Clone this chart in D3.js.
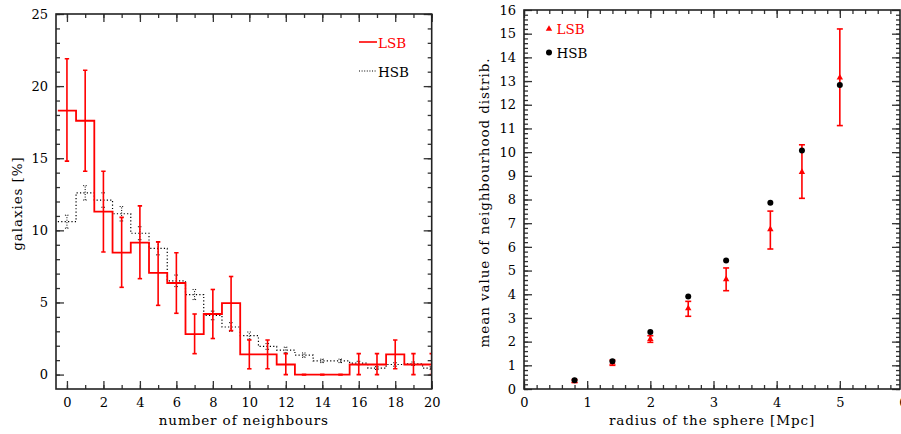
<!DOCTYPE html>
<html><head><meta charset="utf-8">
<script src="https://cdn.jsdelivr.net/npm/d3@7"></script>
<style>
body{margin:0;background:#fff;}
text{font-family:"DejaVu Serif",serif;}
</style></head>
<body><svg id="c" width="901" height="434"></svg>
<script>
// ---- Left panel data: histogram of number of neighbours ----
const bins = d3.range(0, 21);
const lsbPct = [18.3,17.6,11.3,8.45,9.15,7.05,6.35,2.8,4.2,4.95,1.4,1.4,0.7,0,0,0,0.7,0.7,1.4,0.7,0.7];
const lsbLo  = [14.8,14.1,8.5,6.05,6.65,4.8,4.25,1.45,2.5,3.05,0.4,0.4,0,0,0,0,0,0,0.4,0,0];
const lsbHi  = [21.9,21.1,14.1,10.9,11.7,9.2,8.45,4.2,5.9,6.8,2.4,2.4,1.45,0,0,0,1.45,1.45,2.4,1.45,1.45];
const hsbPct = [10.6,12.6,12.1,11.15,9.8,8.75,6.5,5.55,4.1,3.3,2.7,1.95,1.7,1.35,0.95,0.95,0.8,0.45,0.7,0.75,0.45];
const hsbErr = [0.45,0.5,0.5,0.5,0.45,0.45,0.4,0.35,0.3,0.3,0.25,0.2,0.2,0.15,0.12,0.12,0.12,0.1,0.12,0.12,0.1];
const leftXTicks = [0,2,4,6,8,10,12,14,16,18,20];
const leftYTicks = [0,5,10,15,20,25];

// ---- Right panel data: mean neighbourhood value vs radius ----
const radius   = [0.8,1.4,2.0,2.6,3.2,3.9,4.4,5.0];
const hsbMean  = [0.37,1.17,2.41,3.9,5.43,7.86,10.07,12.83];
const lsbMean  = [0.33,1.11,2.11,3.4,4.63,6.74,9.16,13.14];
const lsbMeanLo= [0.27,1.0,1.97,3.07,4.15,5.91,8.05,11.12];
const lsbMeanHi= [0.4,1.22,2.25,3.7,5.11,7.51,10.31,15.2];
const rightXTicks = [0,1,2,3,4,5,6];
const rightYTicks = d3.range(0,17);

const svg = d3.select("#c");
const RED = "#ff0000";

function frame(g, x0, y0, x1, y1){
  g.append("rect").attr("x",x0).attr("y",y0).attr("width",x1-x0).attr("height",y1-y0)
    .attr("fill","none").attr("stroke","#222").attr("stroke-width",1.6);
}
function drawAxes(g, x, y, xMaj, xMin, yMaj, yMin, bounds, fmtX, fmtY){
  const [x0,y0,x1,y1] = bounds;
  const style = sel => { sel.select(".domain").remove(); sel.selectAll("line").attr("stroke","#333").attr("stroke-width",1.3); };
  // bottom
  g.append("g").attr("transform",`translate(0,${y1})`)
    .call(d3.axisBottom(x).tickValues(xMin).tickSize(-4).tickFormat("")).call(style);
  g.append("g").attr("transform",`translate(0,${y1})`)
    .call(d3.axisBottom(x).tickValues(xMaj).tickSize(-8).tickPadding(9).tickFormat(fmtX)).call(style)
    .selectAll("text").attr("font-size",13).attr("fill","#000").attr("dy","0.72em");
  // top
  g.append("g").attr("transform",`translate(0,${y0})`)
    .call(d3.axisTop(x).tickValues(xMin).tickSize(-4).tickFormat("")).call(style);
  g.append("g").attr("transform",`translate(0,${y0})`)
    .call(d3.axisTop(x).tickValues(xMaj).tickSize(-8).tickFormat("")).call(style);
  // left
  g.append("g").attr("transform",`translate(${x0},0)`)
    .call(d3.axisLeft(y).tickValues(yMin).tickSize(-4).tickFormat("")).call(style);
  g.append("g").attr("transform",`translate(${x0},0)`)
    .call(d3.axisLeft(y).tickValues(yMaj).tickSize(-8).tickPadding(8).tickFormat(fmtY)).call(style)
    .selectAll("text").attr("font-size",13).attr("fill","#000");
  // right
  g.append("g").attr("transform",`translate(${x1},0)`)
    .call(d3.axisRight(y).tickValues(yMin).tickSize(-4).tickFormat("")).call(style);
  g.append("g").attr("transform",`translate(${x1},0)`)
    .call(d3.axisRight(y).tickValues(yMaj).tickSize(-8).tickFormat("")).call(style);
  frame(g, x0, y0, x1, y1);
}

// ================= LEFT PANEL =================
{
  const b = [56,14,431.7,389];
  const x = d3.scaleLinear().domain([-0.6,20]).range([b[0],b[2]]);
  const y = d3.scaleLinear().domain([-1,25]).range([b[3],b[1]]);
  const g = svg.append("g");
  svg.append("clipPath").attr("id","clipL").append("rect")
    .attr("x",b[0]).attr("y",b[1]).attr("width",b[2]-b[0]).attr("height",b[3]-b[1]);
  const plot = g.append("g").attr("clip-path","url(#clipL)");

  const stepPts = vals => bins.flatMap((d,i)=>[[d-0.5,vals[i]],[d+0.5,vals[i]]]);
  const line = d3.line().x(d=>x(d[0])).y(d=>y(d[1]));

  // HSB dotted histogram
  plot.append("path").attr("d",line(stepPts(hsbPct))).attr("fill","none")
    .attr("stroke","#000").attr("stroke-width",1.2).attr("stroke-dasharray","1.2,2.2");
  // HSB error bars (dotted)
  const he = plot.append("g").attr("stroke","#000").attr("stroke-width",1).attr("stroke-dasharray","1,1.5");
  bins.forEach((d,i)=>{
    he.append("line").attr("x1",x(d)).attr("x2",x(d)).attr("y1",y(hsbPct[i]-hsbErr[i])).attr("y2",y(hsbPct[i]+hsbErr[i]));
    [hsbPct[i]-hsbErr[i],hsbPct[i]+hsbErr[i]].forEach(v=>
      he.append("line").attr("x1",x(d)-2).attr("x2",x(d)+2).attr("y1",y(v)).attr("y2",y(v)));
  });
  // LSB solid histogram
  plot.append("path").attr("d",line(stepPts(lsbPct))).attr("fill","none")
    .attr("stroke",RED).attr("stroke-width",1.8);
  // LSB error bars
  const le = plot.append("g").attr("stroke",RED).attr("stroke-width",1.6);
  bins.forEach((d,i)=>{
    le.append("line").attr("x1",x(d)).attr("x2",x(d)).attr("y1",y(lsbLo[i])).attr("y2",y(lsbHi[i]));
    [lsbLo[i],lsbHi[i]].forEach(v=>
      le.append("line").attr("x1",x(d)-2.2).attr("x2",x(d)+2.2).attr("y1",y(v)).attr("y2",y(v)));
  });

  drawAxes(g, x, y, leftXTicks, bins, leftYTicks, d3.range(0,26), b, d3.format("d"), d3.format("d"));

  // legend
  g.append("line").attr("x1",359).attr("x2",377).attr("y1",42).attr("y2",42).attr("stroke",RED).attr("stroke-width",1.6);
  g.append("text").attr("x",378).attr("y",47.5).attr("font-size",13.5).attr("fill",RED).text("LSB");
  g.append("line").attr("x1",359).attr("x2",377).attr("y1",71).attr("y2",71).attr("stroke","#000").attr("stroke-width",1.2).attr("stroke-dasharray","1,1.6");
  g.append("text").attr("x",378).attr("y",76.5).attr("font-size",13.5).attr("fill","#000").text("HSB");

  // axis titles
  g.append("text").attr("x",(b[0]+b[2])/2).attr("y",425).attr("text-anchor","middle")
    .attr("font-size",13.5).attr("letter-spacing",0.9).text("number of neighbours");
  g.append("text").attr("transform",`translate(22,${(b[1]+b[3])/2+2}) rotate(-90)`).attr("text-anchor","middle")
    .attr("font-size",13.5).attr("letter-spacing",0.9).text("galaxies [%]");
}

// ================= RIGHT PANEL =================
{
  const b = [524,10,900,389];
  const x = d3.scaleLinear().domain([0,6]).range([524,903]);
  const y = d3.scaleLinear().domain([0,16]).range([b[3],b[1]]);
  const g = svg.append("g");

  drawAxes(g, x, y, rightXTicks, d3.range(0,30).map(i=>i*0.2).filter(v=>v<5.99),
           rightYTicks, d3.range(0,80).map(i=>i*0.2), b, d3.format("d"), d3.format("d"));

  // LSB error bars
  const le = g.append("g").attr("stroke",RED).attr("stroke-width",1.6);
  radius.forEach((r,i)=>{
    le.append("line").attr("x1",x(r)).attr("x2",x(r)).attr("y1",y(lsbMeanLo[i])).attr("y2",y(lsbMeanHi[i]));
    [lsbMeanLo[i],lsbMeanHi[i]].forEach(v=>
      le.append("line").attr("x1",x(r)-3).attr("x2",x(r)+3).attr("y1",y(v)).attr("y2",y(v)));
  });
  const tri = d3.symbol().type(d3.symbolTriangle).size(18);
  g.append("g").selectAll("path").data(radius).join("path")
    .attr("d",tri).attr("transform",(r,i)=>`translate(${x(r)},${y(lsbMean[i])})`).attr("fill",RED);
  g.append("g").selectAll("circle").data(radius).join("circle")
    .attr("cx",r=>x(r)).attr("cy",(r,i)=>y(hsbMean[i])).attr("r",3).attr("fill","#000");

  // legend
  g.append("path").attr("d",tri).attr("transform","translate(549,29)").attr("fill",RED);
  g.append("text").attr("x",556.5).attr("y",34).attr("font-size",13.5).attr("fill",RED).text("LSB");
  g.append("circle").attr("cx",549).attr("cy",52.5).attr("r",3).attr("fill","#000");
  g.append("text").attr("x",556.5).attr("y",57.5).attr("font-size",13.5).attr("fill","#000").text("HSB");

  g.append("text").attr("x",712).attr("y",425).attr("text-anchor","middle")
    .attr("font-size",13.5).attr("letter-spacing",0.9).text("radius of the sphere [Mpc]");
  g.append("text").attr("transform",`translate(489,${(b[1]+b[3])/2+3}) rotate(-90)`).attr("text-anchor","middle")
    .attr("font-size",13.5).attr("letter-spacing",0.9).text("mean value of neighbourhood distrib.");
}
</script></body></html>
